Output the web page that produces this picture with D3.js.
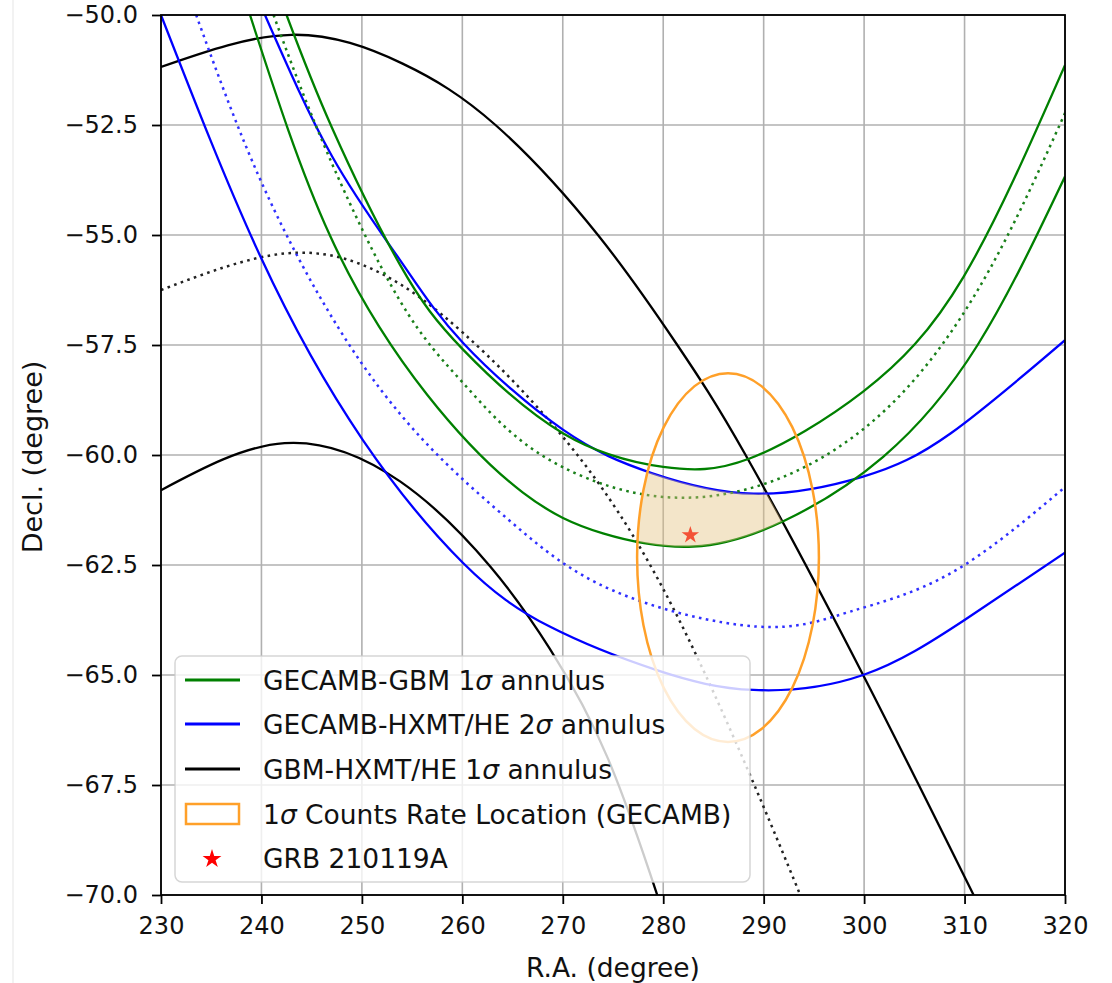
<!DOCTYPE html>
<html><head><meta charset="utf-8">
<script src="https://cdn.jsdelivr.net/npm/d3@7"></script>
<style>
body{margin:0;background:#fff;}
svg{display:block;font-family:"DejaVu Sans",sans-serif;}
</style>
</head><body>
<svg id="c" width="1112" height="983"></svg>
<script>
// ---- data (RA, Dec in degrees) ----
const raTicks = [230,240,250,260,270,280,290,300,310,320];
const decTicks = [-50,-52.5,-55,-57.5,-60,-62.5,-65,-67.5,-70];

// GECAMB-GBM 1 sigma annulus (green)
const gecambGbmInner = [[242.5,-50],[247,-52.55],[253.8,-55.68],[260.1,-57.61],[270.05,-59.51],[280,-60.27],[288.6,-60.08],[299.9,-58.56],[309.9,-55.95],[320,-51.14]];
const gecambGbmCenter = [[241.2,-50],[246.5,-53.1],[253.8,-56.5],[260.1,-58.37],[267.4,-59.93],[278.7,-60.92],[290.3,-60.64],[300.2,-59.36],[307.9,-57.45],[314.2,-55.05],[320,-52.23]];
const gecambGbmOuter = [[238.86,-50],[246.8,-55.0],[256.5,-58.63],[266,-60.85],[274,-61.78],[283,-62.08],[292,-61.5],[301.9,-60.04],[311.3,-57.5],[320,-53.67]];

// GECAMB-HXMT/HE 2 sigma annulus (blue)
const gecambHxmtInner = [[240.35,-50],[247,-53.2],[253.8,-55.57],[260.1,-57.46],[270.05,-59.43],[278.85,-60.41],[289,-60.88],[299.9,-60.49],[308.6,-59.51],[320,-57.39]];
const gecambHxmtCenter = [[233.5,-50],[239.9,-53.75],[247.8,-57.16],[256.1,-59.66],[265,-61.55],[275,-63.08],[289.3,-63.9],[298.6,-63.56],[308.6,-62.69],[320,-60.73]];
const gecambHxmtOuter = [[230,-50],[239.9,-55.49],[250.1,-59.66],[260.1,-62.46],[268.7,-63.9],[279.35,-64.89],[289,-65.34],[299.9,-65.0],[310,-63.75],[320,-62.22]];

// GBM-HXMT/HE 1 sigma annulus (black)
const gbmHxmtOuter = [[230,-51.18],[243,-50.45],[254,-51.1],[263.3,-52.5],[273.5,-55.0],[281.4,-57.5],[288.2,-60.0],[299.9,-65.0],[310.9,-70.0],[311.6,-70.3]];
const gbmHxmtCenter = [[230,-56.25],[242.3,-55.42],[251.8,-55.86],[260.1,-57.23],[270.05,-59.6],[281.7,-63.8],[293.5,-69.92],[294,-70.2]];
const gbmHxmtInner = [[230,-60.8],[242.3,-59.73],[253.8,-60.6],[262.8,-62.54],[268.7,-64.4],[274.5,-66.9],[279.4,-70.0],[279.7,-70.2]];

// 1 sigma counts-rate location (ellipse) and GRB position
const ellipseCenter = [286.45, -62.33];
const ellipseHalfAxes = [9.05, 4.19];
const grbPosition = [282.7, -61.82];

const legendLabels = [
  ["GECAMB-GBM 1", "σ", " annulus"],
  ["GECAMB-HXMT/HE 2", "σ", " annulus"],
  ["GBM-HXMT/HE 1", "σ", " annulus"],
  ["1", "σ", " Counts Rate Location (GECAMB)"],
  ["GRB 210119A", "", ""]
];

// ---- layout ----
const L = 161, R = 1065, T = 15, B = 895;
const x = d3.scaleLinear().domain([230,320]).range([L,R]);
const y = d3.scaleLinear().domain([-50,-70]).range([T,B]);
const GREEN = "#008000", BLUE = "#0000ff", BLACK = "#000000", ORANGE = "#ffa029";

const svg = d3.select("#c");
svg.append("rect").attr("width",1112).attr("height",983).attr("fill","#fff");
svg.append("line").attr("x1",13).attr("x2",13).attr("y1",0).attr("y2",983).attr("stroke","#eeeeee").attr("stroke-width",1.5);

const defs = svg.append("defs");
defs.append("clipPath").attr("id","plot").append("rect")
  .attr("x",L).attr("y",T).attr("width",R-L).attr("height",B-T);

// grid
const grid = svg.append("g");
grid.selectAll("line.gx").data(raTicks).join("line")
  .attr("x1",d=>x(d)).attr("x2",d=>x(d)).attr("y1",T).attr("y2",B)
  .attr("stroke","#b0b0b0").attr("stroke-width",1.6);
grid.selectAll("line.gy").data(decTicks).join("line")
  .attr("y1",d=>y(d)).attr("y2",d=>y(d)).attr("x1",L).attr("x2",R)
  .attr("stroke","#b0b0b0").attr("stroke-width",1.6);

const CURVE = d3.curveNatural;
const line = d3.line().x(d=>x(d[0])).y(d=>y(d[1])).curve(CURVE);
const plot = svg.append("g").attr("clip-path","url(#plot)");

// shaded intersection region
const belowArea = d3.area().x(d=>x(d[0])).y0(y(-80)).y1(d=>y(d[1])).curve(CURVE);
const aboveArea = d3.area().x(d=>x(d[0])).y0(y(-40)).y1(d=>y(d[1])).curve(CURVE);
defs.append("clipPath").attr("id","cA").append("path").attr("d", belowArea(gecambHxmtInner));
defs.append("clipPath").attr("id","cB").append("path").attr("d", aboveArea(gecambGbmOuter));
defs.append("clipPath").attr("id","cC").append("ellipse")
  .attr("cx",x(ellipseCenter[0])).attr("cy",y(ellipseCenter[1]))
  .attr("rx",x(ellipseCenter[0]+ellipseHalfAxes[0])-x(ellipseCenter[0]))
  .attr("ry",y(ellipseCenter[1]-ellipseHalfAxes[1])-y(ellipseCenter[1]));
defs.append("clipPath").attr("id","cD").append("path").attr("d", belowArea(gbmHxmtOuter));

// curves
const curves = [
  [gbmHxmtOuter, BLACK, null],
  [gbmHxmtInner, BLACK, null],
  [gbmHxmtCenter, "#222", "2.6 4.4"],
  [gecambHxmtInner, BLUE, null],
  [gecambHxmtOuter, BLUE, null],
  [gecambHxmtCenter, "#3030ff", "2.6 4.4"],
  [gecambGbmInner, GREEN, null],
  [gecambGbmOuter, GREEN, null],
  [gecambGbmCenter, "#1a801a", "2.6 4.4"]
];
curves.forEach(([data,col,dash])=>{
  const p = plot.append("path").attr("d",line(data)).attr("fill","none")
    .attr("stroke",col).attr("stroke-width", dash?2.5:2.3);
  if(dash) p.attr("stroke-dasharray",dash);
});

// star (GRB)
const star = d3.symbol().type(d3.symbolStar).size(95);
plot.append("path").attr("d",star())
  .attr("transform",`translate(${x(grbPosition[0])},${y(grbPosition[1])})`)
  .attr("fill","#ff0000");

// fill
plot.append("g").attr("clip-path","url(#cA)")
  .append("g").attr("clip-path","url(#cB)")
  .append("g").attr("clip-path","url(#cC)")
  .append("g").attr("clip-path","url(#cD)")
  .append("rect").attr("x",L).attr("y",T).attr("width",R-L).attr("height",B-T)
  .attr("fill","#e3c27e").attr("fill-opacity",0.42);

// ellipse
plot.append("ellipse")
  .attr("cx",x(ellipseCenter[0])).attr("cy",y(ellipseCenter[1]))
  .attr("rx",x(ellipseCenter[0]+ellipseHalfAxes[0])-x(ellipseCenter[0]))
  .attr("ry",y(ellipseCenter[1]-ellipseHalfAxes[1])-y(ellipseCenter[1]))
  .attr("fill","none").attr("stroke",ORANGE).attr("stroke-width",2.5);

// axes
const fmt = d3.format(".1f");
const ax = svg.append("g").attr("transform",`translate(0,${B})`)
  .call(d3.axisBottom(x).tickValues(raTicks).tickSize(9).tickPadding(13).tickFormat(d3.format("d")));
const ay = svg.append("g").attr("transform",`translate(${L},0)`)
  .call(d3.axisLeft(y).tickValues(decTicks).tickSize(9).tickPadding(14).tickFormat(fmt));
[ax,ay].forEach(a=>{
  a.select(".domain").remove();
  a.selectAll(".tick line").attr("stroke","#000").attr("stroke-width",1.8);
  a.selectAll(".tick text").attr("font-size",24).attr("fill","#111").attr("font-family","DejaVu Sans");
});
svg.append("rect").attr("x",L).attr("y",T).attr("width",R-L).attr("height",B-T)
  .attr("fill","none").attr("stroke","#000").attr("stroke-width",1.8);

svg.append("text").attr("x",(L+R)/2).attr("y",977).attr("text-anchor","middle")
  .attr("font-size",26.5).attr("fill","#111").text("R.A. (degree)");
svg.append("text").attr("transform","translate(42,457) rotate(-90)").attr("text-anchor","middle")
  .attr("font-size",27).attr("fill","#111").text("Decl. (degree)");

// legend
const lg = svg.append("g");
lg.append("rect").attr("x",175).attr("y",656).attr("width",575).attr("height",226).attr("rx",7)
  .attr("fill","#fff").attr("fill-opacity",0.8).attr("stroke","#cccccc").attr("stroke-opacity",0.8).attr("stroke-width",1.5);
const rows = [680,724,769,814,858];
const handleCols = [GREEN, BLUE, BLACK];
handleCols.forEach((c,i)=>{
  lg.append("line").attr("x1",185).attr("x2",240).attr("y1",rows[i]).attr("y2",rows[i])
    .attr("stroke",c).attr("stroke-width",2.8);
});
lg.append("rect").attr("x",186).attr("y",rows[3]-10).attr("width",53).attr("height",20)
  .attr("fill","none").attr("stroke",ORANGE).attr("stroke-width",2.5);
lg.append("path").attr("d",d3.symbol().type(d3.symbolStar).size(110)())
  .attr("transform",`translate(212,${rows[4]+1})`).attr("fill","#ff0000");
legendLabels.forEach((lab,i)=>{
  const t = lg.append("text").attr("x",263).attr("y",rows[i]+9.5).attr("font-size",26.5).attr("fill","#111");
  t.append("tspan").text(lab[0]);
  if(lab[1]) t.append("tspan").attr("font-style","italic").text(lab[1]);
  if(lab[2]) t.append("tspan").text(lab[2]);
});
</script>
</body></html>
